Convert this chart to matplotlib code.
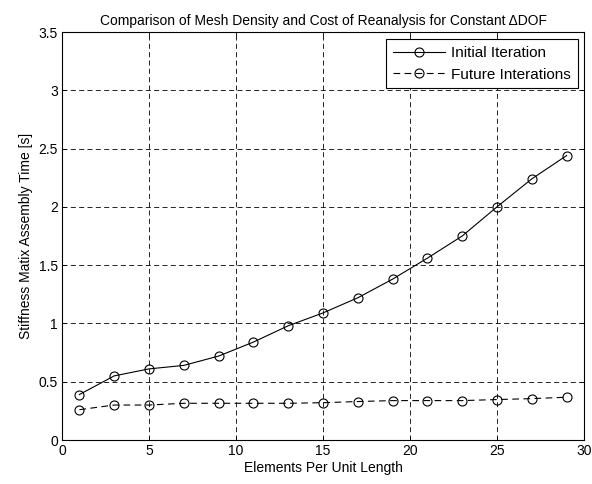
import matplotlib
matplotlib.use('Agg')
import matplotlib.pyplot as plt

plt.rcParams['font.family'] = ['Liberation Sans', 'DejaVu Sans']
plt.rcParams['font.size'] = 10

elements = [1, 3, 5, 7, 9, 11, 13, 15, 17, 19, 21, 23, 25, 27, 29]
initial_iter = [0.39, 0.55, 0.61, 0.64, 0.72, 0.84, 0.98, 1.09, 1.22, 1.38, 1.56, 1.75, 2.00, 2.24, 2.44]
future_iter = [0.26, 0.30, 0.30, 0.315, 0.315, 0.315, 0.315, 0.32, 0.33, 0.338, 0.338, 0.338, 0.347, 0.355, 0.367]

x_ticks = [0, 5, 10, 15, 20, 25, 30]
y_ticks = [0, 0.5, 1, 1.5, 2, 2.5, 3, 3.5]
y_labels = ['0', '0.5', '1', '1.5', '2', '2.5', '3', '3.5']

fig = plt.figure(figsize=(5.92, 4.84), dpi=100)
ax = fig.add_axes([62 / 592, 1 - 440 / 484, 522 / 592, 408 / 484])

ax.plot(elements, initial_iter, '-o', color='black', lw=0.8, mfc='none', mec='black',
        ms=6.5, mew=0.8, label='Initial Iteration')
ax.plot(elements, future_iter, '--o', color='black', lw=0.8, mfc='none', mec='black',
        ms=6.5, mew=0.8, dashes=(6, 4), label='Future Interations')

ax.set_xlim(0, 30)
ax.set_ylim(0, 3.5)
ax.set_xticks(x_ticks)
ax.set_yticks(y_ticks)
ax.set_yticklabels(y_labels)
ax.tick_params(direction='in', length=3, width=0.6, top=True, right=True, labelsize=10, pad=3)
ax.grid(True, color='black', linestyle=(0, (6, 4)), linewidth=0.6)
for s in ax.spines.values():
    s.set_linewidth(0.8)

ax.set_title('Comparison of Mesh Density and Cost of Reanalysis for Constant \u0394DOF', fontsize=10, pad=5)
ax.set_xlabel('Elements Per Unit Length', fontsize=10, labelpad=2)
ax.set_ylabel('Stiffness Matix Assembly Time [s]', fontsize=10, labelpad=4)

leg = ax.legend(loc='upper right', fontsize=11, fancybox=False, framealpha=1,
                edgecolor='black', borderaxespad=0.0, handlelength=3.4,
                handletextpad=0.4, borderpad=0.45, labelspacing=0.5,
                bbox_to_anchor=(577 / 584 + 0.0, 1 - 7 / 408))
leg.get_frame().set_linewidth(0.8)

fig.savefig('out.png', dpi=100)
